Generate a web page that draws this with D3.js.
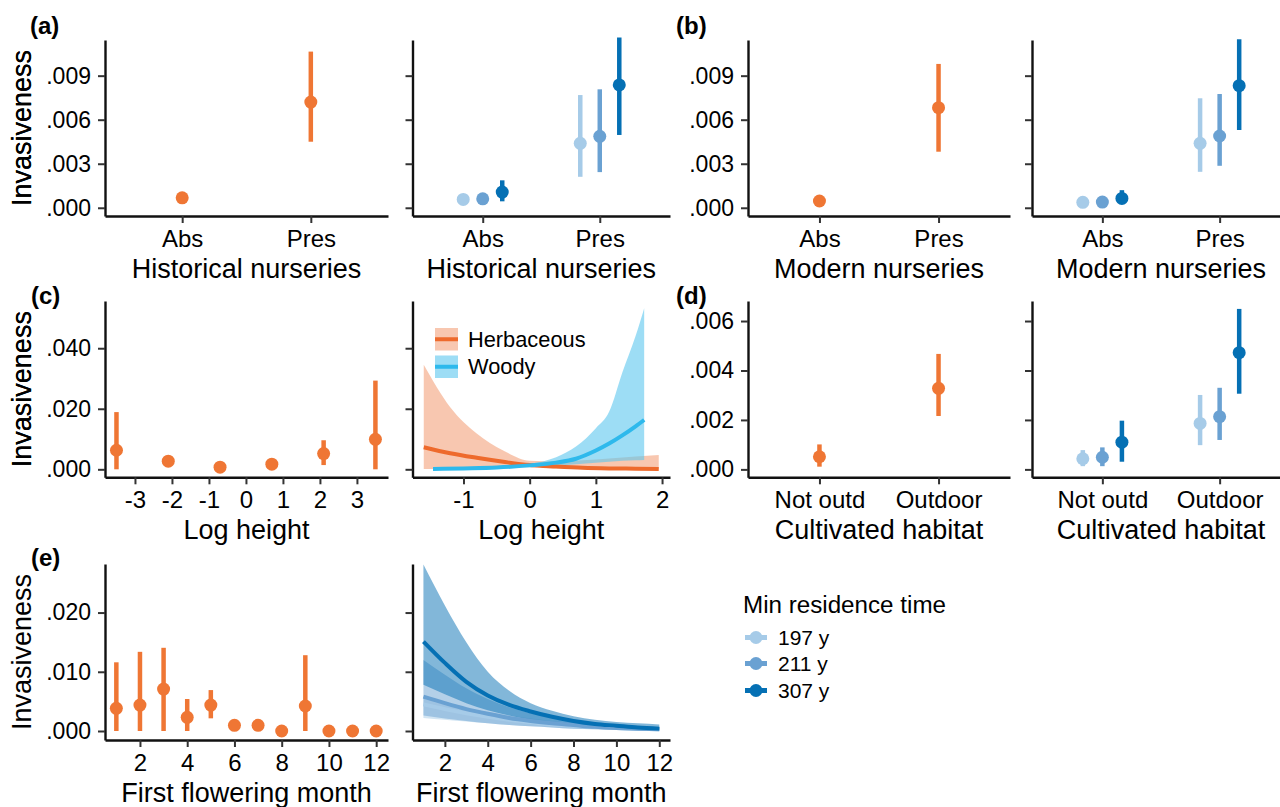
<!DOCTYPE html>
<html>
<head>
<meta charset="utf-8">
<script src="https://cdn.jsdelivr.net/npm/d3@7"></script>
<style>
  body { margin: 0; background: #fff; }
  text { font-family: "Liberation Sans", Arial, sans-serif; }
</style>
</head>
<body>
<script>
// ---- data ----
var nurseryCats = ["Abs", "Pres"];
var habitatCats = ["Not outd", "Outdoor"];
var resLevels = ["197 y", "211 y", "307 y"];
var resColors = ["#a6cbe8", "#6aa1d2", "#0570b4"];
var orange = "#ef7634";

// (a) historical nurseries, pooled
var histEst = [0.00068, 0.0072];
var histLo = [0.00060, 0.0045];
var histHi = [0.00076, 0.01064];
// (a) by residence time: rows = category, cols = level
var histResEst = [[0.00057, 0.00061, 0.00107], [0.00439, 0.00487, 0.00837]];
var histResLo = [[0.00050, 0.00054, 0.00044], [0.00211, 0.00243, 0.00496]];
var histResHi = [[0.00064, 0.00068, 0.00187], [0.00768, 0.00807, 0.0116]];

// (b) modern nurseries
var modEst = [0.00046, 0.00682];
var modLo = [0.00040, 0.00382];
var modHi = [0.00052, 0.0098];
var modResEst = [[0.00037, 0.00039, 0.00064], [0.00439, 0.00489, 0.00832]];
var modResLo = [[0.00031, 0.00033, 0.00030], [0.00245, 0.00286, 0.0053]];
var modResHi = [[0.00043, 0.00045, 0.0012], [0.00746, 0.00775, 0.01148]];

// (c) log height, binned
var heightX = [-3.5, -2.1, -0.7, 0.7, 2.1, 3.5];
var heightEst = [0.0063, 0.0027, 0.0007, 0.0017, 0.0052, 0.0099];
var heightLo = [0.0000, 0.0022, 0.0003, 0.0012, 0.0014, 0.0000];
var heightHi = [0.0189, 0.0032, 0.0011, 0.0022, 0.0096, 0.0293];

// (c) fitted curves by growth form
var herbX = [-1.6, -1.2, -0.8, -0.4, 0, 0.4, 0.8, 1.2, 1.6, 1.95];
var herbFit = [0.0073, 0.0053, 0.0038, 0.0025, 0.0014, 0.0009, 0.0005, 0.0003, 0.0002, 0.0001];
var herbUp = [0.0345, 0.0205, 0.0118, 0.0062, 0.0028, 0.0026, 0.0030, 0.0036, 0.0042, 0.0047];
var herbLow = [0.0001, 0.0002, 0.0004, 0.0006, 0.0007, 0.0003, 0.0001, 0.00005, 0.00002, 0.00001];
var woodyX = [-1.46, -1.0, -0.5, 0, 0.4, 0.7, 1.0, 1.2, 1.4, 1.6, 1.73];
var woodyFit = [0.0001, 0.0003, 0.0006, 0.0013, 0.0022, 0.0035, 0.0062, 0.0085, 0.0112, 0.0142, 0.0163];
var woodyUp = [0.0002, 0.0005, 0.0009, 0.0018, 0.0040, 0.0075, 0.0136, 0.0190, 0.0320, 0.0440, 0.0532];
var woodyLow = [0.00003, 0.0001, 0.0003, 0.0009, 0.0013, 0.0017, 0.0022, 0.0025, 0.0028, 0.0030, 0.0031];

// (d) cultivated habitat
var habEst = [0.00051, 0.00328];
var habLo = [0.00011, 0.00216];
var habHi = [0.00101, 0.00467];
var habResEst = [[0.00043, 0.00049, 0.0011], [0.00186, 0.00213, 0.00472]];
var habResLo = [[0.00013, 0.00013, 0.00031], [0.00098, 0.00119, 0.00306]];
var habResHi = [[0.00078, 0.00089, 0.00197], [0.00301, 0.0033, 0.00649]];

// (e) first flowering month
var months = [1, 2, 3, 4, 5, 6, 7, 8, 9, 10, 11, 12];
var monthEst = [0.00383, 0.00438, 0.00708, 0.00231, 0.00438, 0.00096, 0.00096, 0.0000, 0.00422, 0.0000, 0.0000, 0.0000];
var monthLo = [0.0000, 0.0000, 0.0000, 0.0000, 0.00214, 0.0007, 0.0007, 0.0000, 0.0000, 0.0000, 0.0000, 0.0000];
var monthHi = [0.0116, 0.01337, 0.01405, 0.0054, 0.00691, 0.0012, 0.0012, 0.0001, 0.0128, 0.0001, 0.0001, 0.0001];

// (e) fitted curves by residence time (per month)
var monthFit = [
  [0.0045, 0.0037, 0.0030, 0.0024, 0.0019, 0.0015, 0.0011, 0.0009, 0.0007, 0.0005, 0.0004, 0.0003],
  [0.0058, 0.0047, 0.0037, 0.0029, 0.0022, 0.0017, 0.0013, 0.0010, 0.0007, 0.0005, 0.0004, 0.0003],
  [0.0151, 0.0115, 0.0083, 0.0060, 0.0044, 0.0033, 0.0024, 0.0017, 0.0012, 0.0009, 0.0006, 0.0004]
];
var monthUp = [
  [0.0056, 0.0047, 0.0039, 0.0032, 0.0026, 0.0021, 0.0017, 0.0014, 0.0011, 0.0009, 0.0008, 0.0007],
  [0.0120, 0.0095, 0.0072, 0.0054, 0.0040, 0.0030, 0.0022, 0.0016, 0.0012, 0.0009, 0.0007, 0.0006],
  [0.0281, 0.0212, 0.0150, 0.0100, 0.0068, 0.0047, 0.0034, 0.0025, 0.0019, 0.0015, 0.0013, 0.0011]
];
var monthLow = [
  [0.0022, 0.0019, 0.0016, 0.0013, 0.0010, 0.0008, 0.0006, 0.0004, 0.0003, 0.0002, 0.0002, 0.0001],
  [0.0026, 0.0021, 0.0017, 0.0013, 0.0010, 0.0008, 0.0006, 0.0004, 0.0003, 0.0002, 0.0002, 0.0001],
  [0.0078, 0.0062, 0.0047, 0.0035, 0.0026, 0.0019, 0.0013, 0.0009, 0.0006, 0.0004, 0.0003, 0.0002]
];

// ---- layout ----
var cols = [[105, 388], [412.5, 670], [748, 1010], [1032, 1290]];
var rows = [[40, 216], [301, 477.3], [564, 740]];

var svg = d3.select("body").append("svg")
  .attr("width", 1280).attr("height", 807);

var yFmt = function (v) { return d3.format(".3f")(v).replace(/^0/, ""); };

function drawAxes(g, x, y, o) {
  var xa = o.cat ? d3.axisBottom(x) : d3.axisBottom(x).tickValues(o.xTicks).tickFormat(function (v) { return String(v); });
  var gx = g.append("g").attr("transform", "translate(0," + y.range()[0] + ")")
    .call(xa.tickSize(7).tickSizeOuter(0).tickPadding(7));
  var gy = g.append("g").attr("transform", "translate(" + x.range()[0] + ",0)")
    .call(d3.axisLeft(y).tickValues(o.yTicks).tickFormat(o.yLabels ? yFmt : "")
      .tickSize(7).tickSizeOuter(0).tickPadding(7));
  [gx, gy].forEach(function (a) {
    a.select(".domain").attr("stroke", "#111").attr("stroke-width", 2.4);
    a.selectAll(".tick line").attr("stroke", "#333").attr("stroke-width", 2);
    a.selectAll(".tick text").attr("fill", "#000")
      .style("font-family", "'Liberation Sans', Arial, sans-serif");
  });
  gx.selectAll(".tick text").style("font-size", "24px");
  gy.selectAll(".tick text").style("font-size", "23px");
  g.append("text")
    .attr("x", (x.range()[0] + x.range()[1]) / 2)
    .attr("y", y.range()[0] + 62)
    .attr("text-anchor", "middle").style("font-size", "27px")
    .text(o.xTitle);
  if (o.yLabels) {
    g.append("text")
      .attr("transform", "translate(31," + (y.range()[0] + y.range()[1]) / 2 + ") rotate(-90)")
      .attr("text-anchor", "middle").style("font-size", "27px")
      .text("Invasiveness");
  }
}

function pointRange(g, cx, cy, lo, hi, col) {
  g.append("line").attr("x1", cx).attr("x2", cx).attr("y1", lo).attr("y2", hi)
    .attr("stroke", col).attr("stroke-width", 4.5);
  g.append("circle").attr("cx", cx).attr("cy", cy).attr("r", 6.5).attr("fill", col);
}

function catPanel(col, row, cats, est, lo, hi, yDom, yTicks, xTitle, labels) {
  var g = svg.append("g");
  var x = d3.scalePoint().domain(cats).range(cols[col]).padding(0.6);
  var y = d3.scaleLinear().domain(yDom).range([rows[row][1], rows[row][0]]);
  drawAxes(g, x, y, { cat: true, yTicks: yTicks, yLabels: labels, xTitle: xTitle });
  cats.forEach(function (c, i) {
    pointRange(g, x(c), y(est[i]), y(lo[i]), y(hi[i]), orange);
  });
}

function catResPanel(col, row, cats, est, lo, hi, yDom, yTicks, xTitle) {
  var g = svg.append("g");
  var x = d3.scalePoint().domain(cats).range(cols[col]).padding(0.6);
  var y = d3.scaleLinear().domain(yDom).range([rows[row][1], rows[row][0]]);
  drawAxes(g, x, y, { cat: true, yTicks: yTicks, yLabels: false, xTitle: xTitle });
  var dodge = x.step() / 6;
  cats.forEach(function (c, i) {
    resLevels.forEach(function (r, j) {
      pointRange(g, x(c) + (j - 1) * dodge, y(est[i][j]), y(lo[i][j]), y(hi[i][j]), resColors[j]);
    });
  });
}

var rowADom = [-0.00056, 0.01143];
var rowATicks = [0, 0.003, 0.006, 0.009];
catPanel(0, 0, nurseryCats, histEst, histLo, histHi, rowADom, rowATicks, "Historical nurseries", true);
catResPanel(1, 0, nurseryCats, histResEst, histResLo, histResHi, rowADom, rowATicks, "Historical nurseries");
catPanel(2, 0, nurseryCats, modEst, modLo, modHi, rowADom, rowATicks, "Modern nurseries", true);
catResPanel(3, 0, nurseryCats, modResEst, modResLo, modResHi, rowADom, rowATicks, "Modern nurseries");

var habDom = [-0.00032, 0.00681];
var habTicks = [0, 0.002, 0.004, 0.006];
catPanel(2, 1, habitatCats, habEst, habLo, habHi, habDom, habTicks, "Cultivated habitat", true);
catResPanel(3, 1, habitatCats, habResEst, habResLo, habResHi, habDom, habTicks, "Cultivated habitat");

// (c) left: binned log height
(function () {
  var g = svg.append("g");
  var x = d3.scaleLinear().domain([-3.81, 3.84]).range(cols[0]);
  var y = d3.scaleLinear().domain([-0.00264, 0.0556]).range([rows[1][1], rows[1][0]]);
  drawAxes(g, x, y, { xTicks: [-3, -2, -1, 0, 1, 2, 3], yTicks: [0, 0.02, 0.04], yLabels: true, xTitle: "Log height" });
  heightX.forEach(function (v, i) {
    pointRange(g, x(v), y(heightEst[i]), y(heightLo[i]), y(heightHi[i]), orange);
  });
})();

// (c) right: fitted curves herbaceous / woody
(function () {
  var g = svg.append("g");
  var x = d3.scaleLinear().domain([-1.77, 2.12]).range(cols[1]);
  var y = d3.scaleLinear().domain([-0.00264, 0.0556]).range([rows[1][1], rows[1][0]]);
  drawAxes(g, x, y, { xTicks: [-1, 0, 1, 2], yTicks: [0, 0.02, 0.04], yLabels: false, xTitle: "Log height" });
  var groups = [
    { xs: herbX, fit: herbFit, up: herbUp, low: herbLow, line: "#ee6a2c", fill: "#f4a27c" },
    { xs: woodyX, fit: woodyFit, up: woodyUp, low: woodyLow, line: "#2eb9ec", fill: "#5cc7ee" }
  ];
  var area = d3.area().curve(d3.curveMonotoneX)
    .x(function (d) { return x(d.x); }).y0(function (d) { return y(d.lo); }).y1(function (d) { return y(d.hi); });
  var line = d3.line().curve(d3.curveMonotoneX)
    .x(function (d) { return x(d.x); }).y(function (d) { return y(d.v); });
  groups.forEach(function (s) {
    var pts = s.xs.map(function (v, i) { return { x: v, v: s.fit[i], lo: s.low[i], hi: s.up[i] }; });
    g.append("path").datum(pts).attr("d", area).attr("fill", s.fill).attr("fill-opacity", 0.6);
  });
  groups.forEach(function (s) {
    var pts = s.xs.map(function (v, i) { return { x: v, v: s.fit[i] }; });
    g.append("path").datum(pts).attr("d", line).attr("fill", "none")
      .attr("stroke", s.line).attr("stroke-width", 4);
  });
  // legend
  var names = ["Herbaceous", "Woody"];
  names.forEach(function (n, i) {
    var ly = 328 + i * 27.5;
    g.append("rect").attr("x", 435).attr("y", ly).attr("width", 23).attr("height", 22.5)
      .attr("fill", groups[i].fill).attr("fill-opacity", 0.6);
    g.append("line").attr("x1", 435).attr("x2", 458).attr("y1", ly + 11.25).attr("y2", ly + 11.25)
      .attr("stroke", groups[i].line).attr("stroke-width", 4);
    g.append("text").attr("x", 468).attr("y", ly + 11.25).attr("dy", "0.35em")
      .style("font-size", "21.8px").text(n);
  });
})();

// (e) left: month means
(function () {
  var g = svg.append("g");
  var x = d3.scaleLinear().domain([0.52, 12.5]).range(cols[0]);
  var y = d3.scaleLinear().domain([-0.00152, 0.0282]).range([rows[2][1], rows[2][0]]);
  drawAxes(g, x, y, { xTicks: [2, 4, 6, 8, 10, 12], yTicks: [0, 0.01, 0.02], yLabels: true, xTitle: "First flowering month" });
  months.forEach(function (m, i) {
    pointRange(g, x(m), y(monthEst[i]), y(monthLo[i]), y(monthHi[i]), orange);
  });
})();

// (e) right: fitted curves by residence time
(function () {
  var g = svg.append("g");
  var x = d3.scaleLinear().domain([0.49, 12.5]).range(cols[1]);
  var y = d3.scaleLinear().domain([-0.00152, 0.0282]).range([rows[2][1], rows[2][0]]);
  drawAxes(g, x, y, { xTicks: [2, 4, 6, 8, 10, 12], yTicks: [0, 0.01, 0.02], yLabels: false, xTitle: "First flowering month" });
  var area = d3.area().curve(d3.curveMonotoneX)
    .x(function (d) { return x(d.x); }).y0(function (d) { return y(d.lo); }).y1(function (d) { return y(d.hi); });
  var line = d3.line().curve(d3.curveMonotoneX)
    .x(function (d) { return x(d.x); }).y(function (d) { return y(d.v); });
  resLevels.forEach(function (r, j) {
    var pts = months.map(function (m, i) { return { x: m, lo: monthLow[j][i], hi: monthUp[j][i] }; });
    g.append("path").datum(pts).attr("d", area).attr("fill", resColors[j]).attr("fill-opacity", 0.5);
  });
  resLevels.forEach(function (r, j) {
    var pts = months.map(function (m, i) { return { x: m, v: monthFit[j][i] }; });
    g.append("path").datum(pts).attr("d", line).attr("fill", "none")
      .attr("stroke", resColors[j]).attr("stroke-width", 4);
  });
})();

// residence time legend
svg.append("text").attr("x", 743).attr("y", 613).style("font-size", "24.2px").text("Min residence time");
resLevels.forEach(function (r, j) {
  var ly = [637.5, 663.5, 690.5][j];
  svg.append("line").attr("x1", 745).attr("x2", 767).attr("y1", ly).attr("y2", ly)
    .attr("stroke", resColors[j]).attr("stroke-width", 5);
  svg.append("circle").attr("cx", 756).attr("cy", ly).attr("r", 6.5).attr("fill", resColors[j]);
  svg.append("text").attr("x", 778).attr("y", ly).attr("dy", "0.36em").style("font-size", "21px").text(r);
});

// panel tags
[["(a)", 30, 34], ["(b)", 676, 34], ["(c)", 31, 304], ["(d)", 676, 304], ["(e)", 31, 566]].forEach(function (t) {
  svg.append("text").attr("x", t[1]).attr("y", t[2]).style("font-size", "24px")
    .style("font-weight", "bold").text(t[0]);
});
</script>
</body>
</html>
